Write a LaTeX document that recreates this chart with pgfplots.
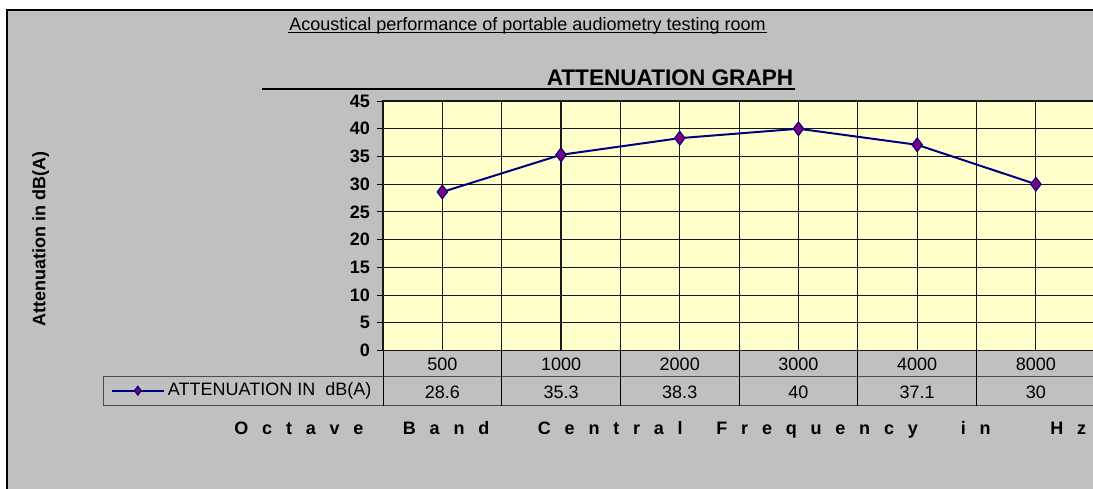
\documentclass[border=0pt]{standalone}
\usepackage{pgfplots}
\pgfplotsset{compat=1.18}
\usepackage{fontspec}
\setmainfont{Liberation Sans}
\definecolor{bggray}{HTML}{C0C0C0}
\definecolor{plotbg}{HTML}{FFFFCC}
\definecolor{navyline}{HTML}{000080}
\definecolor{markfill}{HTML}{800080}
\begin{document}
\begin{tikzpicture}
\useasboundingbox (0,0) rectangle (546.5pt,-244pt);
\clip (0,0) rectangle (546.5pt,-244pt);
\fill[white] (0,0) rectangle (546.5pt,-244pt);
\draw[line width=1pt, fill=bggray] (3.5pt,-5pt) rectangle (600pt,-300pt);
% top title
\node[anchor=base, font=\fontsize{9}{11}\selectfont, inner sep=0pt] at (263.75pt,-15pt)
  {Acoustical performance of portable audiometry testing room};
\draw[line width=0.5pt] (144pt,-16.2pt) -- (383.5pt,-16.2pt);
% long rule under the main title
\draw[line width=1pt] (131pt,-44.6pt) -- (397.5pt,-44.6pt);
\begin{axis}[
  at={(191.5pt,-175.25pt)}, anchor=south west,
  scale only axis, width=356.1pt, height=124.75pt,
  xmin=-0.5, xmax=5.5, ymin=0, ymax=45,
  font=\fontsize{9}{11}\selectfont,
  /pgf/number format/assume math mode=true,
  axis background/.style={fill=plotbg},
  axis line style={black!90, line width=0.55pt},
  xtick={0,1,2,3,4,5},
  minor xtick={-0.5,0.5,1.5,2.5,3.5,4.5,5.5},
  xticklabels={{500\\28.6},{1000\\35.3},{2000\\38.3},{3000\\40},{4000\\37.1},{8000\\30}},
  xticklabel style={anchor=north, inner sep=0pt, yshift=-3.55pt, align=center,
    font=\fontsize{9}{13.75}\selectfont},
  xtick style={draw=none},
  minor tick length=0pt,
  ytick={0,5,...,45},
  ytick align=outside,
  major tick length=3pt,
  ytick style={black, line width=0.5pt},
  yticklabel style={font=\bfseries\fontsize{9}{11}\selectfont},
  grid=both,
  major grid style={black!90, line width=0.55pt},
  minor grid style={black!90, line width=0.55pt},
  title={ATTENUATION GRAPH},
  every axis title/.style={at={(axis description cs:0.403,1.0641)}, anchor=base,
    inner sep=0pt, font=\bfseries\fontsize{11.3}{13}\selectfont},
  ylabel={Attenuation in dB(A)},
  ylabel style={at={(axis description cs:-0.4806,0.4469)}, anchor=center, rotate=0,
    font=\bfseries\fontsize{9}{11}\selectfont},
  legend style={at={(axis description cs:-0.3823,-0.1611)}, anchor=west,
    draw=none, fill=none, inner sep=0pt, outer sep=0pt,
    nodes={inner sep=0pt}, column sep=1.5pt,
    font=\fontsize{9}{11}\selectfont},
  legend image code/.code={%
    \draw[#1, line width=0.8pt, mark size=2.2pt, mark repeat=2, mark phase=2]
      plot coordinates {(0pt,0pt) (13.15pt,0pt) (26.3pt,0pt)};},
]
\addplot[color=navyline, line width=1pt, mark=diamond*, mark size=3.4pt,
  mark options={fill=markfill, draw=navyline, line width=0.6pt}]
  coordinates {(0,28.6) (1,35.3) (2,38.3) (3,40) (4,37.1) (5,30)};
\addlegendentry{ATTENUATION IN~~dB(A)}
\end{axis}
% data table lines
\draw[black!70, line width=0.5pt] (51.65pt,-188.25pt) -- (548pt,-188.25pt);
\draw[black!70, line width=0.5pt] (51.65pt,-202.85pt) -- (548pt,-202.85pt);
\draw[black!70, line width=0.5pt] (51.65pt,-188.25pt) -- (51.65pt,-202.85pt);
\foreach \xx in {191.5,250.85,310.2,369.55,428.9,488.25}
  \draw[black, line width=0.5pt] (\xx pt,-175.25pt) -- (\xx pt,-202.85pt);
% x axis label, letter spaced
\begin{scope}[every node/.style={anchor=base west, inner sep=0pt,
    font=\bfseries\fontsize{9}{11}\selectfont}]
\node at (117pt,-217pt) {\spaceskip=6.9pt\relax O c t a v e};
\node at (201.25pt,-217pt) {\spaceskip=6.9pt\relax B a n d};
\node at (268.75pt,-217pt) {\spaceskip=6.9pt\relax C e n t r a l};
\node at (358pt,-217pt) {\spaceskip=6.9pt\relax F r e q u e n c y};
\node at (480.25pt,-217pt) {\spaceskip=6.9pt\relax i n};
\node at (525pt,-217pt) {\spaceskip=6.9pt\relax H z};
\end{scope}
\end{tikzpicture}
\end{document}
